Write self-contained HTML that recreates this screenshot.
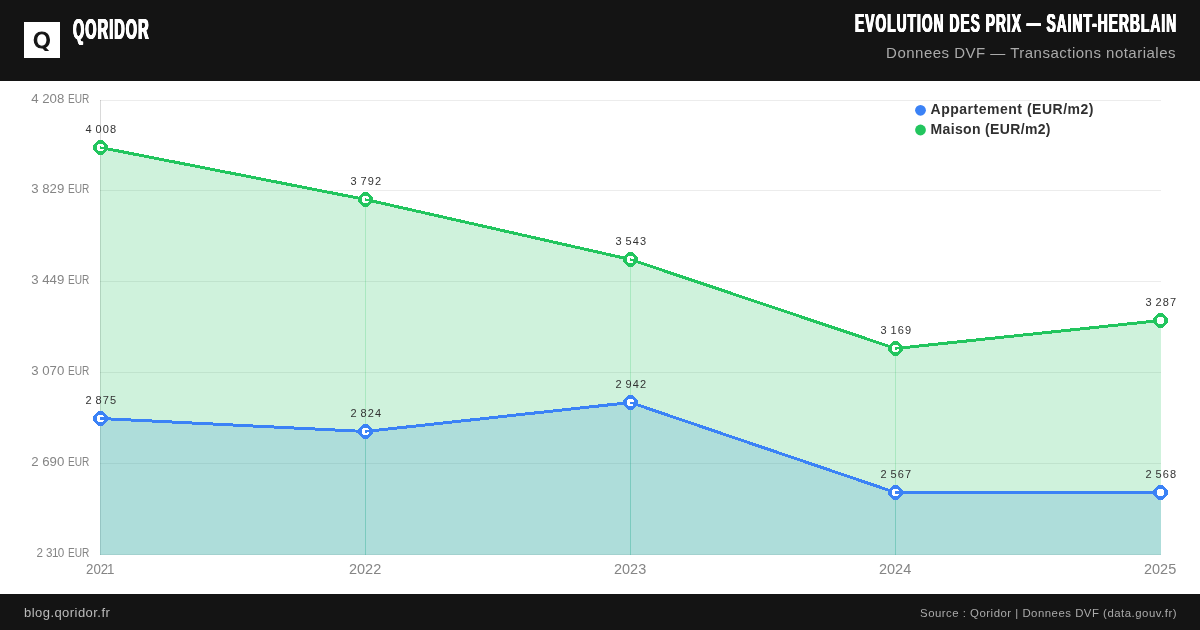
<!DOCTYPE html>
<html lang="fr">
<head>
<meta charset="utf-8">
<title>Evolution des prix — Saint-Herblain</title>
<style>
html,body{margin:0;padding:0;}
body{width:1200px;height:630px;overflow:hidden;background:#fff;position:relative;font-family:"Liberation Sans",sans-serif;}
.header{position:absolute;left:0;top:0;width:1200px;height:81px;background:#141414;}
.logo{position:absolute;left:24px;top:22px;width:36px;height:36px;background:#fff;}
.logo svg{display:block}
.brand{position:absolute;left:73px;top:9px;height:40px;line-height:40px;font-weight:700;font-size:29.2px;color:#fff;white-space:nowrap;transform-origin:0 50%;transform:scaleX(.495);letter-spacing:2.2px;text-shadow:1.1px 0 0 #fff,-1.1px 0 0 #fff,0.5px 0 0 #fff,-0.5px 0 0 #fff}
.title{position:absolute;right:23px;top:6px;height:34px;line-height:34px;font-weight:700;font-size:25.3px;color:#fff;white-space:nowrap;transform-origin:100% 50%;transform:scaleX(.544);letter-spacing:1.9px;text-shadow:0.8px 0 0 #fff,-0.8px 0 0 #fff,0.4px 0 0 #fff,-0.4px 0 0 #fff}
.subtitle{position:absolute;right:24px;top:42px;height:22px;line-height:22px;font-size:15px;color:#aaa;white-space:nowrap;letter-spacing:0.49px}
.footer{position:absolute;left:0;top:594px;width:1200px;height:36px;background:#141414;}
.site{position:absolute;left:24px;top:0.7px;line-height:36px;font-size:13px;color:#bbb;letter-spacing:0.45px;white-space:nowrap}
.source{position:absolute;right:23px;top:0.5px;line-height:36px;font-size:11.4px;color:#aaa;letter-spacing:0.5px;white-space:nowrap}
.chart{position:absolute;left:0;top:81px;}
.chart text{font-family:"Liberation Sans",sans-serif;}
</style>
</head>
<body>
<div class="header">
  <div class="logo"><svg width="36" height="36" viewBox="0 0 36 36"><text x="0" y="25.6" text-anchor="middle" font-family="DejaVu Sans, Liberation Sans, sans-serif" font-size="20.6" fill="#141414" stroke="#141414" stroke-width="1.1" transform="translate(17.9 0) scale(1.09 1)">Q</text></svg></div>
  <div class="brand">QORIDOR</div>
  <div class="title">EVOLUTION DES PRIX — SAINT-HERBLAIN</div>
  <div class="subtitle">Donnees DVF — Transactions notariales</div>
</div>

<svg class="chart" width="1200" height="513" viewBox="0 81 1200 513">
<rect x="100" y="100" width="1061" height="1" fill="#000" fill-opacity="0.075"/>
<rect x="100" y="190" width="1061" height="1" fill="#000" fill-opacity="0.075"/>
<rect x="100" y="281" width="1061" height="1" fill="#000" fill-opacity="0.075"/>
<rect x="100" y="372" width="1061" height="1" fill="#000" fill-opacity="0.075"/>
<rect x="100" y="463" width="1061" height="1" fill="#000" fill-opacity="0.075"/>
<rect x="100" y="554" width="1061" height="1" fill="#000" fill-opacity="0.075"/>
<rect x="100" y="100" width="1" height="455" fill="#000" fill-opacity="0.15"/>
<polygon points="100.00,418.50 366.00,431.50 366.00,555 100.00,555" fill="#3b82f6" fill-opacity="0.215"/>
<polygon points="365.00,431.50 631.00,402.50 631.00,555 365.00,555" fill="#3b82f6" fill-opacity="0.215"/>
<polygon points="630.00,402.50 896.00,492.50 896.00,555 630.00,555" fill="#3b82f6" fill-opacity="0.215"/>
<polygon points="895.00,492.50 1161.00,492.50 1161.00,555 895.00,555" fill="#3b82f6" fill-opacity="0.215"/>
<polygon points="100.00,147.50 366.00,199.50 366.00,555 100.00,555" fill="#22c55e" fill-opacity="0.215"/>
<polygon points="365.00,199.50 631.00,259.50 631.00,555 365.00,555" fill="#22c55e" fill-opacity="0.215"/>
<polygon points="630.00,259.50 896.00,348.50 896.00,555 630.00,555" fill="#22c55e" fill-opacity="0.215"/>
<polygon points="895.00,348.50 1161.00,320.50 1161.00,555 895.00,555" fill="#22c55e" fill-opacity="0.215"/>
<polyline points="100.50,147.50 365.50,199.50 630.50,259.50 895.50,348.50 1160.50,320.50" fill="none" stroke="#22c55e" stroke-width="3" stroke-linejoin="round" shape-rendering="crispEdges"/>
<polygon points="102.90,140.00 108.00,145.10 108.00,149.90 102.90,155.00 98.10,155.00 93.00,149.90 93.00,145.10 98.10,140.00" fill="#22c55e" shape-rendering="crispEdges"/>
<polygon points="102.00,143.80 104.20,146.00 104.20,149.00 102.00,151.20 99.00,151.20 96.80,149.00 96.80,146.00 99.00,143.80" fill="#fff" shape-rendering="crispEdges"/>
<line x1="100.20" y1="147.50" x2="105.41" y2="148.46" stroke="#22c55e" stroke-width="2.4" shape-rendering="crispEdges"/>
<polygon points="367.90,192.00 373.00,197.10 373.00,201.90 367.90,207.00 363.10,207.00 358.00,201.90 358.00,197.10 363.10,192.00" fill="#22c55e" shape-rendering="crispEdges"/>
<polygon points="367.00,195.80 369.20,198.00 369.20,201.00 367.00,203.20 364.00,203.20 361.80,201.00 361.80,198.00 364.00,195.80" fill="#fff" shape-rendering="crispEdges"/>
<line x1="365.20" y1="199.50" x2="370.38" y2="200.60" stroke="#22c55e" stroke-width="2.4" shape-rendering="crispEdges"/>
<polygon points="632.90,252.00 638.00,257.10 638.00,261.90 632.90,267.00 628.10,267.00 623.00,261.90 623.00,257.10 628.10,252.00" fill="#22c55e" shape-rendering="crispEdges"/>
<polygon points="632.00,255.80 634.20,258.00 634.20,261.00 632.00,263.20 629.00,263.20 626.80,261.00 626.80,258.00 629.00,255.80" fill="#fff" shape-rendering="crispEdges"/>
<line x1="630.20" y1="259.50" x2="635.24" y2="261.09" stroke="#22c55e" stroke-width="2.4" shape-rendering="crispEdges"/>
<polygon points="897.90,341.00 903.00,346.10 903.00,350.90 897.90,356.00 893.10,356.00 888.00,350.90 888.00,346.10 893.10,341.00" fill="#22c55e" shape-rendering="crispEdges"/>
<polygon points="897.00,344.80 899.20,347.00 899.20,350.00 897.00,352.20 894.00,352.20 891.80,350.00 891.80,347.00 894.00,344.80" fill="#fff" shape-rendering="crispEdges"/>
<line x1="895.20" y1="348.50" x2="900.47" y2="347.97" stroke="#22c55e" stroke-width="2.4" shape-rendering="crispEdges"/>
<polygon points="1162.90,313.00 1168.00,318.10 1168.00,322.90 1162.90,328.00 1158.10,328.00 1153.00,322.90 1153.00,318.10 1158.10,313.00" fill="#22c55e" shape-rendering="crispEdges"/>
<polygon points="1162.00,316.80 1164.20,319.00 1164.20,322.00 1162.00,324.20 1159.00,324.20 1156.80,322.00 1156.80,319.00 1159.00,316.80" fill="#fff" shape-rendering="crispEdges"/>
<polyline points="100.50,418.50 365.50,431.50 630.50,402.50 895.50,492.50 1160.50,492.50" fill="none" stroke="#3b82f6" stroke-width="3" stroke-linejoin="round" shape-rendering="crispEdges"/>
<polygon points="102.90,411.00 108.00,416.10 108.00,420.90 102.90,426.00 98.10,426.00 93.00,420.90 93.00,416.10 98.10,411.00" fill="#3b82f6" shape-rendering="crispEdges"/>
<polygon points="102.00,414.80 104.20,417.00 104.20,420.00 102.00,422.20 99.00,422.20 96.80,420.00 96.80,417.00 99.00,414.80" fill="#fff" shape-rendering="crispEdges"/>
<line x1="100.20" y1="418.50" x2="105.49" y2="418.74" stroke="#3b82f6" stroke-width="2.4" shape-rendering="crispEdges"/>
<polygon points="367.90,424.00 373.00,429.10 373.00,433.90 367.90,439.00 363.10,439.00 358.00,433.90 358.00,429.10 363.10,424.00" fill="#3b82f6" shape-rendering="crispEdges"/>
<polygon points="367.00,427.80 369.20,430.00 369.20,433.00 367.00,435.20 364.00,435.20 361.80,433.00 361.80,430.00 364.00,427.80" fill="#fff" shape-rendering="crispEdges"/>
<line x1="365.20" y1="431.50" x2="370.47" y2="430.96" stroke="#3b82f6" stroke-width="2.4" shape-rendering="crispEdges"/>
<polygon points="632.90,395.00 638.00,400.10 638.00,404.90 632.90,410.00 628.10,410.00 623.00,404.90 623.00,400.10 628.10,395.00" fill="#3b82f6" shape-rendering="crispEdges"/>
<polygon points="632.00,398.80 634.20,401.00 634.20,404.00 632.00,406.20 629.00,406.20 626.80,404.00 626.80,401.00 629.00,398.80" fill="#fff" shape-rendering="crispEdges"/>
<line x1="630.20" y1="402.50" x2="635.23" y2="404.11" stroke="#3b82f6" stroke-width="2.4" shape-rendering="crispEdges"/>
<polygon points="897.90,485.00 903.00,490.10 903.00,494.90 897.90,500.00 893.10,500.00 888.00,494.90 888.00,490.10 893.10,485.00" fill="#3b82f6" shape-rendering="crispEdges"/>
<polygon points="897.00,488.80 899.20,491.00 899.20,494.00 897.00,496.20 894.00,496.20 891.80,494.00 891.80,491.00 894.00,488.80" fill="#fff" shape-rendering="crispEdges"/>
<line x1="895.20" y1="492.50" x2="900.50" y2="492.50" stroke="#3b82f6" stroke-width="2.4" shape-rendering="crispEdges"/>
<polygon points="1162.90,485.00 1168.00,490.10 1168.00,494.90 1162.90,500.00 1158.10,500.00 1153.00,494.90 1153.00,490.10 1158.10,485.00" fill="#3b82f6" shape-rendering="crispEdges"/>
<polygon points="1162.00,488.80 1164.20,491.00 1164.20,494.00 1162.00,496.20 1159.00,496.20 1156.80,494.00 1156.80,491.00 1159.00,488.80" fill="#fff" shape-rendering="crispEdges"/>
<text x="101.40" y="132.95" text-anchor="middle" font-size="11" fill="#333" letter-spacing="1.15" word-spacing="-1.7">4 008</text>
<text x="366.40" y="184.95" text-anchor="middle" font-size="11" fill="#333" letter-spacing="1.15" word-spacing="-1.7">3 792</text>
<text x="631.40" y="244.95" text-anchor="middle" font-size="11" fill="#333" letter-spacing="1.15" word-spacing="-1.7">3 543</text>
<text x="896.40" y="333.95" text-anchor="middle" font-size="11" fill="#333" letter-spacing="1.15" word-spacing="-1.7">3 169</text>
<text x="1161.40" y="305.95" text-anchor="middle" font-size="11" fill="#333" letter-spacing="1.15" word-spacing="-1.7">3 287</text>
<text x="101.40" y="403.95" text-anchor="middle" font-size="11" fill="#333" letter-spacing="1.15" word-spacing="-1.7">2 875</text>
<text x="366.40" y="416.95" text-anchor="middle" font-size="11" fill="#333" letter-spacing="1.15" word-spacing="-1.7">2 824</text>
<text x="631.40" y="387.95" text-anchor="middle" font-size="11" fill="#333" letter-spacing="1.15" word-spacing="-1.7">2 942</text>
<text x="896.40" y="477.95" text-anchor="middle" font-size="11" fill="#333" letter-spacing="1.15" word-spacing="-1.7">2 567</text>
<text x="1161.40" y="477.95" text-anchor="middle" font-size="11" fill="#333" letter-spacing="1.15" word-spacing="-1.7">2 568</text>
<text y="102.9" font-size="12.3" fill="#858585"><tspan x="31.2" textLength="33.1" lengthAdjust="spacingAndGlyphs">4 208</tspan><tspan x="65.2" textLength="24.2" lengthAdjust="spacingAndGlyphs"> EUR</tspan></text>
<text y="192.9" font-size="12.3" fill="#858585"><tspan x="31.2" textLength="33.1" lengthAdjust="spacingAndGlyphs">3 829</tspan><tspan x="65.2" textLength="24.2" lengthAdjust="spacingAndGlyphs"> EUR</tspan></text>
<text y="283.9" font-size="12.3" fill="#858585"><tspan x="31.2" textLength="33.1" lengthAdjust="spacingAndGlyphs">3 449</tspan><tspan x="65.2" textLength="24.2" lengthAdjust="spacingAndGlyphs"> EUR</tspan></text>
<text y="374.9" font-size="12.3" fill="#858585"><tspan x="31.2" textLength="33.1" lengthAdjust="spacingAndGlyphs">3 070</tspan><tspan x="65.2" textLength="24.2" lengthAdjust="spacingAndGlyphs"> EUR</tspan></text>
<text y="465.9" font-size="12.3" fill="#858585"><tspan x="31.2" textLength="33.1" lengthAdjust="spacingAndGlyphs">2 690</tspan><tspan x="65.2" textLength="24.2" lengthAdjust="spacingAndGlyphs"> EUR</tspan></text>
<text y="556.9" font-size="12.3" fill="#858585"><tspan x="36.4" textLength="27.9" lengthAdjust="spacingAndGlyphs">2 3<tspan dx="-0.7">1</tspan><tspan dx="-0.7">0</tspan></tspan><tspan x="65.2" textLength="24.2" lengthAdjust="spacingAndGlyphs"> EUR</tspan></text>
<text x="0" y="574" text-anchor="middle" font-size="14.5" fill="#858585" transform="translate(100.20 0) scale(.92 1)">202<tspan dx="-1.3">1</tspan></text>
<text x="365.10" y="574" text-anchor="middle" font-size="14.5" fill="#858585">2022</text>
<text x="630.10" y="574" text-anchor="middle" font-size="14.5" fill="#858585">2023</text>
<text x="895.10" y="574" text-anchor="middle" font-size="14.5" fill="#858585">2024</text>
<text x="1160.10" y="574" text-anchor="middle" font-size="14.5" fill="#858585">2025</text>
<circle cx="920.5" cy="110.3" r="5.4" fill="#3b82f6"/>
<circle cx="920.5" cy="130" r="5.4" fill="#22c55e"/>
<text x="930.5" y="114.1" font-size="14" font-weight="700" fill="#303030" textLength="163" lengthAdjust="spacing">Appartement (EUR/m2)</text>
<text x="930.5" y="134" font-size="14" font-weight="700" fill="#303030" textLength="120" lengthAdjust="spacing">Maison (EUR/m2)</text>
</svg>
<div class="footer">
  <div class="site">blog.qoridor.fr</div>
  <div class="source">Source : Qoridor | Donnees DVF (data.gouv.fr)</div>
</div>
</body>
</html>
